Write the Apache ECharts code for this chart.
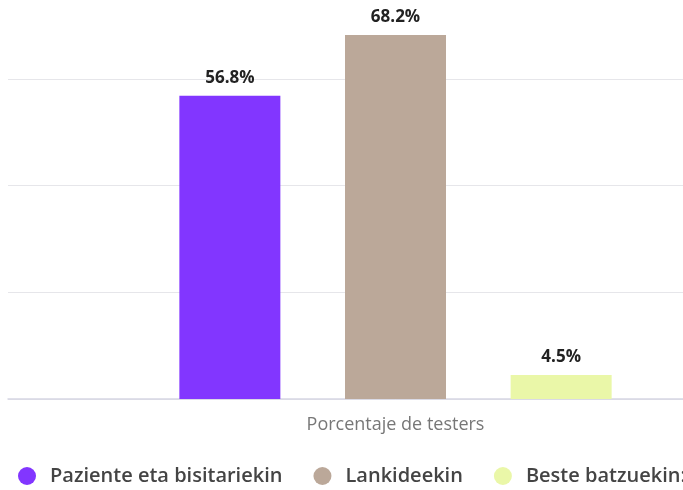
<!DOCTYPE html>
<html><head><meta charset="utf-8">
<script src="https://cdn.jsdelivr.net/npm/echarts@6/dist/echarts.min.js"></script>
<style>html,body{margin:0;padding:0;background:#fff;overflow:hidden;width:683px;height:490px;position:relative}
#c{width:783px;height:518px;position:absolute;left:0;top:-28px}</style>
</head><body><div id="c"></div>
<script>
var categories = ['Porcentaje de testers'];
var seriesNames = ['Paziente eta bisitariekin', 'Lankideekin', 'Beste batzuekin:'];
var seriesValues = [[56.8], [68.2], [4.5]];
var seriesColors = ['#8236ff', '#bba899', '#eaf7a8'];
var FONT = '"Open Sans","Noto Sans",sans-serif';

var chart = echarts.init(document.getElementById('c'));
chart.setOption({
  animation: false,
  textStyle: {fontFamily: FONT},
  grid: {left: 8, right: 0, top: 0, bottom: 91, containLabel: false},
  legend: {
    data: seriesNames, left: 13, top: 489, icon: 'circle',
    itemWidth: 36, itemHeight: 18, itemGap: 31,
    textStyle: {fontFamily: FONT, fontSize: 20, fontWeight: 600, color: '#444', lineHeight: 18}
  },
  xAxis: {
    type: 'category', data: categories,
    axisLine: {lineStyle: {color: '#d6d6e4', width: 1.5}},
    axisTick: {show: false},
    axisLabel: {fontFamily: FONT, fontSize: 18, color: '#777', margin: 17}
  },
  yAxis: {
    type: 'value', min: 0, max: 80, interval: 20,
    axisLabel: {show: false}, axisLine: {show: false}, axisTick: {show: false},
    splitLine: {lineStyle: {color: '#e6e6ea'}}
  },
  series: seriesNames.map(function (n, i) {
    return {
      name: n, type: 'bar', data: seriesValues[i], barWidth: 101, barGap: '64%',
      itemStyle: {color: seriesColors[i]},
      label: {show: true, position: 'top', distance: 9, formatter: '{c}%',
        fontFamily: FONT, fontSize: 17, fontWeight: 'bold', color: '#222'}
    };
  })
});
</script></body></html>
